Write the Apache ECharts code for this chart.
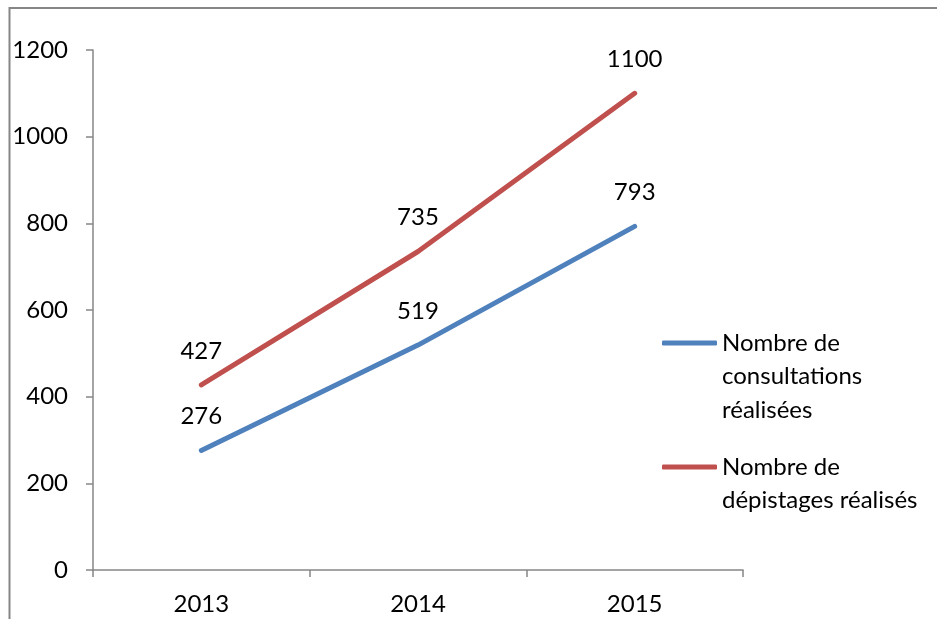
<!DOCTYPE html>
<html>
<head>
<meta charset="utf-8">
<script src="https://cdn.jsdelivr.net/npm/echarts@6/dist/echarts.min.js"></script>
<style>
  html, body { margin: 0; padding: 0; background: #fff; }
  #chart { width: 937px; height: 619px; }
</style>
</head>
<body>
<div id="chart"></div>
<script>
const years = ['2013', '2014', '2015'];
const consultations = [276, 519, 793];
const depistages = [427, 735, 1100];
const seriesNames = ['Nombre de consultations réalisées', 'Nombre de dépistages réalisés'];
const legendLines = [['Nombre de', 'consultations', 'réalisées'], ['Nombre de', 'dépistages réalisés']];

const FONT = 'Lato';
const FS = 24;
const LH = 33.5;
const axisColor = '#868686';

const chart = echarts.init(document.getElementById('chart'), null, { renderer: 'canvas' });

// icon is centered on the text block; pad with leading blank lines so the icon sits on the first line
function legendFor(i, iconY) {
  const lines = legendLines[i];
  const padded = new Array(lines.length - 1).fill('').concat(lines);
  const total = padded.length * LH;
  return {
    show: true,
    data: [seriesNames[i]],
    left: 662,
    top: iconY - total / 2,
    padding: 0,
    itemWidth: 55,
    itemHeight: 5,
    icon: 'roundRect',
    formatter: () => padded.join('\n'),
    textStyle: { fontFamily: FONT, fontSize: FS, color: '#000', lineHeight: LH }
  };
}

const labelStyle = { show: true, position: 'top', distance: 22, fontFamily: FONT, fontSize: FS, color: '#000' };

chart.setOption({
  animation: false,
  color: ['#4F81BD', '#C0504D'],
  graphic: [{
    type: 'rect',
    shape: { x: 9.5, y: 8, width: 1200, height: 1200 },
    style: { fill: 'none', stroke: axisColor, lineWidth: 2 },
    silent: true
  }],
  grid: { left: 93, right: 194, top: 50, bottom: 49, containLabel: false },
  legend: [legendFor(0, 343), legendFor(1, 467)],
  xAxis: {
    type: 'category',
    data: years,
    boundaryGap: true,
    axisLine: { lineStyle: { color: axisColor, width: 1.5 } },
    axisTick: { show: true, inside: false, length: 7, lineStyle: { color: axisColor, width: 1.5 } },
    axisLabel: { fontFamily: FONT, fontSize: FS, color: '#000', margin: 22 }
  },
  yAxis: {
    type: 'value',
    min: 0, max: 1200, interval: 200,
    splitLine: { show: false },
    axisLine: { show: true, lineStyle: { color: axisColor, width: 1.5 } },
    axisTick: { show: true, inside: false, length: 7, lineStyle: { color: axisColor, width: 1.5 } },
    axisLabel: { fontFamily: FONT, fontSize: FS, color: '#000', margin: 25, formatter: v => String(v) }
  },
  series: [
    {
      name: seriesNames[0], type: 'line', data: consultations,
      symbol: 'circle', symbolSize: 0, showSymbol: true,
      lineStyle: { width: 5, cap: 'round' },
      label: labelStyle
    },
    {
      name: seriesNames[1], type: 'line', data: depistages,
      symbol: 'circle', symbolSize: 0, showSymbol: true,
      lineStyle: { width: 5, cap: 'round' },
      label: labelStyle
    }
  ]
});
</script>
</body>
</html>
